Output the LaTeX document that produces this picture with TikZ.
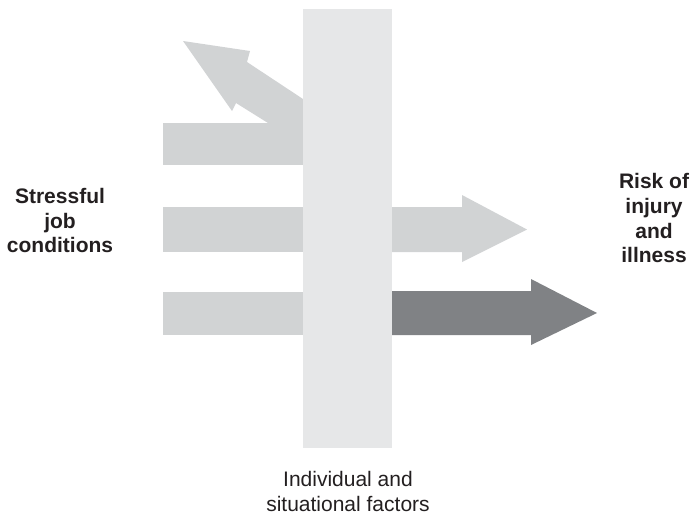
\documentclass[tikz,border=0pt]{standalone}
\usepackage{fontspec}
\setmainfont{Liberation Sans}
\definecolor{barcol}{HTML}{E6E7E8}
\definecolor{lightarrow}{HTML}{D1D3D4}
\definecolor{darkarrow}{HTML}{808285}
\definecolor{txtcol}{HTML}{231F20}
\begin{document}
\begin{tikzpicture}[x=1pt,y=-1pt,
  lbl/.style={align=center, inner sep=0pt, text=txtcol, font=\fontsize{21}{24.7}\selectfont},
  boldlbl/.style={lbl, font=\fontsize{21}{24.7}\selectfont\bfseries},
  light/.style={fill=lightarrow, draw=none},
  dark/.style={fill=darkarrow, draw=none}]
\useasboundingbox (0,0) rectangle (690,517);
% left input bars
\fill[light] (163,123) rectangle (303,165);
\fill[light] (163,207) rectangle (303,252);
\fill[light] (163,292) rectangle (303,335);
% deflected arrow
\fill[light] (183,41) -- (250,51) -- (247,62) -- (303,99) -- (303,123) -- (268,123) -- (236,103) -- (232,111) -- cycle;
% vertical bar
\node (bar) [rectangle, fill=barcol, draw=none, minimum width=89pt, minimum height=439pt, inner sep=0pt] at (347.5,228.5) {};
% output arrows
\fill[light] (392,207) -- (462,207) -- (462,195) -- (527,229.5) -- (462,262) -- (462,252) -- (392,252) -- cycle;
\fill[dark] (392,291) -- (531,291) -- (531,279) -- (597,313) -- (531,345) -- (531,335) -- (392,335) -- cycle;
% labels
\node (stress) [boldlbl] at (60,220.5) {Stressful\\job\\conditions};
\node (risk) [boldlbl] at (654,218.3) {Risk of\\injury\\and\\illness};
\node (factors) [lbl] at (348,491.8) {Individual and\\situational factors};
\end{tikzpicture}
\end{document}
